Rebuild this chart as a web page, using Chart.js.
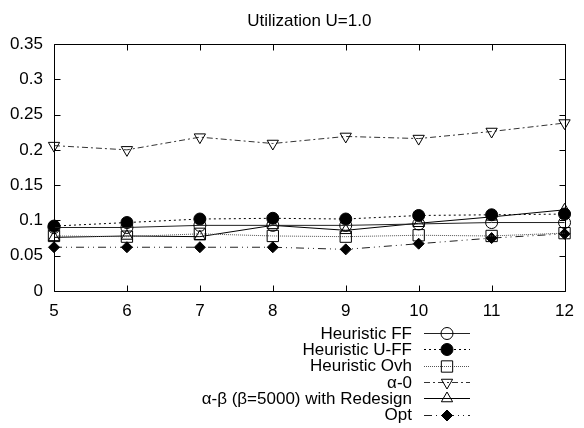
<!DOCTYPE html>
<html>
<head>
<meta charset="utf-8">
<script src="https://cdn.jsdelivr.net/npm/chart.js@4.4.1/dist/chart.umd.min.js"></script>
<style>
  html, body { margin: 0; padding: 0; background: #fff; }
  #wrap { width: 584px; height: 428px; }
</style>
</head>
<body>
<div id="wrap"><canvas id="c" width="584" height="428"></canvas></div>
<script>
const titleText = 'Utilization U=1.0';
const categories = ['5', '6', '7', '8', '9', '10', '11', '12'];
const yTickLabels = ['0', '0.05', '0.1', '0.15', '0.2', '0.25', '0.3', '0.35'];
const seriesNames = ['Heuristic FF', 'Heuristic U-FF', 'Heuristic Ovh', 'α-0', 'α-β (β=5000) with Redesign', 'Opt'];
const heuristicFF  = [0.090, 0.090, 0.093, 0.093, 0.093, 0.095, 0.097, 0.097];
const heuristicUFF = [0.092, 0.097, 0.102, 0.103, 0.102, 0.107, 0.108, 0.109];
const heuristicOvh = [0.078, 0.077, 0.081, 0.078, 0.077, 0.079, 0.078, 0.082];
const alpha0       = [0.206, 0.200, 0.218, 0.209, 0.219, 0.216, 0.226, 0.238];
const alphaBeta    = [0.076, 0.078, 0.077, 0.093, 0.086, 0.096, 0.105, 0.115];
const opt          = [0.062, 0.062, 0.062, 0.062, 0.059, 0.067, 0.075, 0.081];

const FONT = 'Liberation Sans, Arial, Helvetica, sans-serif';
const FSIZE = 17;
const NONE = 'rgba(0,0,0,0)';

function ds(label, data, opts) {
  return Object.assign({
    label, data,
    borderColor: '#000',
    borderWidth: 1,
    pointBorderColor: '#000',
    pointBorderWidth: 1,
    pointBackgroundColor: NONE,
    pointRadius: 6,
    pointHoverRadius: 6,
    pointRotation: 0,
    tension: 0,
    fill: false,
    clip: false,
    borderDash: []
  }, opts);
}

const datasets = [
  ds(seriesNames[0], heuristicFF,  { pointStyle: 'circle', borderColor: '#222' }),
  ds(seriesNames[1], heuristicUFF, { pointStyle: 'circle', pointBackgroundColor: '#000', borderDash: [2, 3] }),
  ds(seriesNames[2], heuristicOvh, { pointStyle: 'rect', pointRadius: 8, borderColor: '#555', borderDash: [1, 1] }),
  ds(seriesNames[3], alpha0,       { pointStyle: 'triangle', pointRotation: 180, pointRadius: 6.5, borderColor: '#333', borderDash: [6, 3, 2, 3] }),
  ds(seriesNames[4], alphaBeta,    { pointStyle: 'triangle', pointRadius: 6.5 }),
  ds(seriesNames[5], opt,          { pointStyle: 'rectRot', pointRadius: 5.5, pointBackgroundColor: '#000', borderColor: '#222', borderDash: [8, 4, 1, 4, 1, 4] })
];

const framePlugin = {
  id: 'frame',
  afterDatasetsDraw(chart) {
    const { ctx, chartArea: a, scales } = chart;
    ctx.save();
    ctx.strokeStyle = '#000';
    ctx.lineWidth = 1;
    ctx.setLineDash([]);
    const L = Math.round(a.left) + 0.5, R = Math.round(a.right) + 0.5;
    const T = Math.round(a.top) + 0.5, B = Math.round(a.bottom) + 0.5;
    ctx.beginPath();
    ctx.rect(L, T, R - L, B - T);
    ctx.stroke();
    const tl = 6;
    ctx.beginPath();
    scales.y.ticks.forEach(t => {
      const y = Math.round(scales.y.getPixelForValue(t.value)) + 0.5;
      ctx.moveTo(L, y); ctx.lineTo(L + tl, y);
      ctx.moveTo(R, y); ctx.lineTo(R - tl, y);
    });
    categories.forEach((c, i) => {
      const x = Math.round(scales.x.getPixelForValue(i)) + 0.5;
      ctx.moveTo(x, B); ctx.lineTo(x, B - tl);
      ctx.moveTo(x, T); ctx.lineTo(x, T + tl);
    });
    ctx.stroke();
    ctx.restore();
  },
  afterDraw(chart) {
    const { ctx, chartArea: a } = chart;
    ctx.save();
    // title
    ctx.fillStyle = '#000';
    ctx.font = FSIZE + 'px ' + FONT;
    ctx.textAlign = 'center';
    ctx.textBaseline = 'alphabetic';
    ctx.fillText(titleText, (a.left + a.right) / 2, 26);
    // legend
    const textRight = 412, x0 = 424, x1 = 470, xm = 447;
    const y0 = 333, step = 16.3;
    chart.data.datasets.forEach((d, i) => {
      const y = y0 + i * step;
      ctx.fillStyle = '#000';
      ctx.textAlign = 'right';
      ctx.textBaseline = 'middle';
      ctx.fillText(d.label, textRight, y + 1);
      ctx.strokeStyle = d.borderColor;
      ctx.lineWidth = d.borderWidth;
      ctx.setLineDash(d.borderDash || []);
      ctx.beginPath();
      ctx.moveTo(x0, Math.round(y) + 0.5);
      ctx.lineTo(x1, Math.round(y) + 0.5);
      ctx.stroke();
      ctx.setLineDash([]);
      ctx.fillStyle = d.pointBackgroundColor;
      ctx.strokeStyle = d.pointBorderColor;
      ctx.lineWidth = d.pointBorderWidth;
      Chart.helpers.drawPoint(ctx, {
        pointStyle: d.pointStyle,
        rotation: d.pointRotation,
        radius: d.pointRadius,
        borderWidth: d.pointBorderWidth
      }, xm, Math.round(y) + 0.5);
    });
    ctx.restore();
  }
};

new Chart(document.getElementById('c'), {
  type: 'line',
  data: { labels: categories, datasets },
  options: {
    responsive: false,
    animation: false,
    devicePixelRatio: 1,
    layout: { padding: { top: 44, right: 15, left: 0, bottom: 0 } },
    plugins: {
      legend: { display: false },
      title: { display: false },
      tooltip: { enabled: false }
    },
    scales: {
      x: {
        type: 'category',
        offset: false,
        grid: { display: false, drawTicks: false },
        border: { display: false },
        ticks: {
          color: '#000',
          font: { family: FONT, size: FSIZE },
          padding: 10,
          maxRotation: 0,
          autoSkip: false
        },
        afterFit(scale) { scale.height = 137; }
      },
      y: {
        type: 'linear',
        min: 0,
        max: 0.35,
        grid: { display: false, drawTicks: false },
        border: { display: false },
        ticks: {
          stepSize: 0.05,
          color: '#000',
          font: { family: FONT, size: FSIZE },
          padding: 11,
          callback: (v, i) => yTickLabels[i]
        },
        afterFit(scale) { scale.width = 54; }
      }
    }
  },
  plugins: [framePlugin]
});
</script>
</body>
</html>
